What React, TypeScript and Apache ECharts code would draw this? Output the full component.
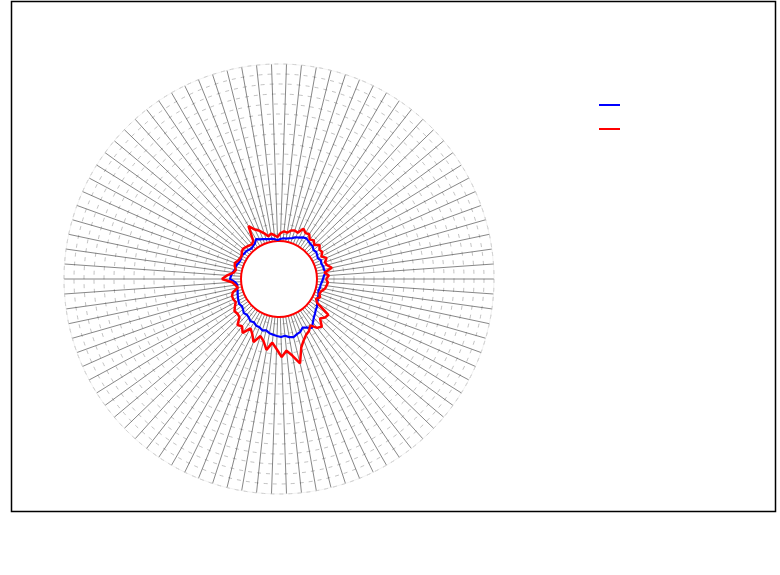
import React, { useEffect, useRef } from "react";
import * as echarts from "echarts";

const angles = [
  0, 4, 8, 12, 16, 20, 24, 28, 32, 36, 40, 44, 48, 52, 56, 60, 64, 68, 72, 76,
  80, 84, 88, 92, 96, 100, 104, 108, 112, 116, 120, 124, 128, 132, 136, 140, 144, 148, 152, 156,
  160, 164, 168, 172, 176, 180, 184, 188, 192, 196, 200, 204, 208, 212, 216, 220, 224, 228, 232, 236,
  240, 244, 248, 252, 256, 260, 264, 268, 272, 276, 280, 284, 288, 292, 296, 300, 304, 308, 312, 316,
  320, 324, 328, 332, 336, 340, 344, 348, 352, 356,
];

const blueValues = [
  9, 10, 12, 11, 11, 10, 11, 9, 10, 11, 10, 12, 12, 13, 14, 13, 11, 10, 8, 7,
  6, 6, 5, 4, 5, 6, 6, 7, 8, 9, 11, 8, 7, 6, 7, 8, 8, 9, 8, 8,
  9, 10, 10, 12, 13, 14, 9, 7, 8, 8, 9, 10, 11, 12, 11, 12, 14, 13, 14, 16,
  15, 17, 17, 19, 18, 20, 21, 22, 23, 22, 24, 25, 23, 22, 19, 21, 24, 20, 17, 15,
  13, 12, 10, 9, 8, 7, 6, 7, 7, 8,
];

const redValues = [
  12, 15, 11, 19, 15, 14, 17, 13, 16, 15, 18, 14, 17, 15, 19, 18, 21, 15, 16, 15,
  12, 13, 11, 7, 9, 11, 9, 13, 17, 20, 26, 11, 9, 10, 11, 12, 11, 9, 9, 10,
  12, 11, 9, 11, 17, 22, 12, 9, 7, 13, 15, 15, 14, 17, 20, 19, 20, 27, 25, 30,
  22, 26, 33, 25, 29, 37, 29, 35, 43, 37, 43, 52, 37, 31, 27, 25, 21, 27, 29, 22,
  25, 26, 10, 7, 10, 8, 9, 12, 13, 14,
];

const seriesNames = ["blue", "red"];

function closedLoop(vals: number[]) {
  const pts = vals.map((v, i) => [v, angles[i]]);
  pts.push([vals[0], 360]);
  return pts;
}

export default function App() {
  const ref = useRef<HTMLDivElement>(null);
  useEffect(() => {
    document.body.style.margin = "0";
    const chart = echarts.init(ref.current!, null, { renderer: "svg" });
    chart.setOption({
      animation: false,
      backgroundColor: "#fff",
      polar: { center: [279, 279], radius: [35, 215] },
      angleAxis: {
        type: "value",
        min: 0,
        max: 360,
        interval: 4,
        startAngle: 0,
        clockwise: false,
        axisLine: { show: true, lineStyle: { color: "#e4e4e4", width: 0.5 } },
        axisTick: { show: false },
        axisLabel: { show: false },
        splitLine: { show: true, lineStyle: { color: "#222", width: 0.55 } },
      },
      radiusAxis: {
        type: "value",
        min: 0,
        max: 180,
        interval: 10,
        axisLine: { show: false },
        axisTick: { show: false },
        axisLabel: { show: false },
        splitLine: {
          show: true,
          lineStyle: { color: "#999", width: 0.6, type: [4, 5] },
        },
      },
      legend: {
        orient: "vertical",
        left: 594,
        top: 94,
        itemWidth: 21,
        itemHeight: 2,
        itemGap: 12,
        icon: "rect",
        formatter: () => " ",
        data: seriesNames,
      },
      graphic: [
        {
          type: "rect",
          shape: { x: 11.5, y: 1.5, width: 764, height: 510 },
          style: { fill: "none", stroke: "#000", lineWidth: 1.5 },
          silent: true,
        },
        {
          type: "circle",
          shape: { cx: 279, cy: 279, r: 38 },
          style: { fill: "#fff", stroke: "#ff0000", lineWidth: 2 },
          silent: true,
          z: 1,
        },
      ],
      series: [
        {
          name: seriesNames[0],
          type: "line",
          coordinateSystem: "polar",
          data: closedLoop(blueValues),
          symbol: "none",
          lineStyle: { color: "#0000ff", width: 2.2 },
          itemStyle: { color: "#0000ff" },
          z: 3,
        },
        {
          name: seriesNames[1],
          type: "line",
          coordinateSystem: "polar",
          data: closedLoop(redValues),
          symbol: "none",
          lineStyle: { color: "#ff0000", width: 2.5 },
          itemStyle: { color: "#ff0000" },
          z: 4,
        },
      ],
    });
    return () => chart.dispose();
  }, []);
  return <div ref={ref} style={{ width: 780, height: 575 }} />;
}
